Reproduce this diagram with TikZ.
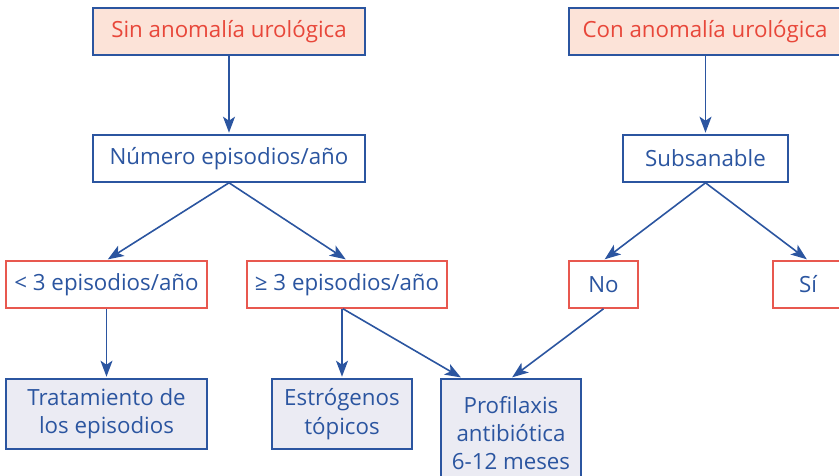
\documentclass[tikz,border=0pt]{standalone}
\usepackage{fontspec}
\setmainfont{Open Sans}
\usetikzlibrary{arrows.meta}
\definecolor{dblue}{HTML}{2B55A0}
\definecolor{rtext}{HTML}{E8473A}
\definecolor{rborder}{HTML}{E8584F}
\definecolor{salmon}{HTML}{FCE3D8}
\definecolor{lav}{HTML}{EBEBF3}
\tikzset{
  base/.style={rectangle, inner sep=0pt, line width=1.6pt, font=\fontsize{22.3}{28.3}\selectfont, align=center},
  topbox/.style={base, draw=dblue, fill=salmon, text=rtext},
  midbox/.style={base, draw=dblue, fill=white, text=dblue},
  redbox/.style={base, draw=rborder, fill=white, text=dblue},
  endbox/.style={base, draw=dblue, fill=lav, text=dblue},
  arr/.style={draw=dblue, line width=1.6pt, -{Stealth[length=16pt,width=12pt,inset=4pt]}, shorten >=1.5pt}
}
\begin{document}
\begin{tikzpicture}[x=1pt,y=-1pt]
\useasboundingbox (0,0) rectangle (839,476);
\clip (0,0) rectangle (839,476);
\node[topbox, minimum width=272pt, minimum height=47pt] (sin) at (229,31.5) {Sin anomalía urológica};
\node[topbox, minimum width=272pt, minimum height=47pt] (con) at (705,31.5) {Con anomalía urológica};
\node[midbox, minimum width=272pt, minimum height=47pt] (num) at (229,158.5) {Número episodios/año};
\node[midbox, minimum width=165pt, minimum height=47pt] (sub) at (705.5,158.5) {Subsanable};
\node[redbox, minimum width=201pt, minimum height=47pt] (lt) at (106.5,284.5) {< 3 episodios/año};
\node[redbox, minimum width=200pt, minimum height=47pt] (ge) at (347,284.5) {≥ 3 episodios/año};
\node[redbox, minimum width=69pt, minimum height=47pt] (no) at (603.5,284.5) {No};
\node[redbox, minimum width=70pt, minimum height=47pt] (si) at (808,284.5) {Sí};
\node[endbox, minimum width=201pt, minimum height=70pt] (tra) at (106.5,414) {Tratamiento de\\los episodios};
\node[endbox, minimum width=140pt, minimum height=70pt] (es) at (342,414) {Estrógenos\\tópicos};
\node[endbox, minimum width=140pt, minimum height=108pt] (pro) at (511,433) {Profilaxis\\antibiótica\\6-12 meses};
\draw[arr] (sin) -- (num);
\draw[arr] (con.south -| sub.north) -- (sub.north);
\draw[arr] (num.south) -- (lt.north);
\draw[arr] (num.south) -- (ge.north);
\draw[arr] (sub.south) -- (no.north);
\draw[arr] (sub.south) -- (si.north);
\draw[arr] (lt) -- (tra);
\draw[arr] (es.north |- ge.south) -- (es.north);
\draw[arr] ([xshift=-4pt]ge.south) -- ([xshift=22pt]pro.north west);
\draw[arr] (no.south) -- (pro.north);
\end{tikzpicture}
\end{document}
